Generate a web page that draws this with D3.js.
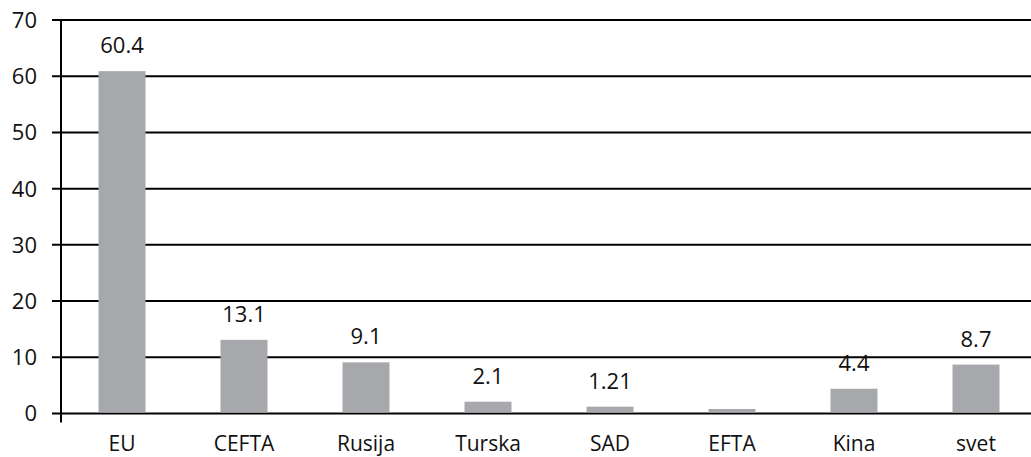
<!DOCTYPE html>
<html>
<head>
<meta charset="utf-8">
<script src="https://cdn.jsdelivr.net/npm/d3@7"></script>
<style>
  body { margin: 0; background: #fff; }
  text { font-family: "Open Sans", "Noto Sans", sans-serif; fill: #111; }
</style>
</head>
<body>
<div id="chart"></div>
<script>
const categories = ["EU", "CEFTA", "Rusija", "Turska", "SAD", "EFTA", "Kina", "svet"];
const values = [60.9, 13.1, 9.1, 2.1, 1.21, 0.8, 4.4, 8.7];
const valueLabels = ["60.4", "13.1", "9.1", "2.1", "1.21", "", "4.4", "8.7"];
const yTicks = [0, 10, 20, 30, 40, 50, 60, 70];

const W = 1031, H = 457;
const margin = {top: 20, right: -6, bottom: 43, left: 61};

const svg = d3.select("#chart").append("svg")
    .attr("width", W)
    .attr("height", H);

const x = d3.scaleBand()
    .domain(categories)
    .range([margin.left, W - margin.right])
    .paddingInner(0.615)
    .paddingOuter(0.3075);

const y = d3.scaleLinear()
    .domain([0, 70])
    .range([H - margin.bottom - 0.5, margin.top]);

// gridlines + tick marks
svg.append("g")
  .selectAll("line")
  .data(yTicks)
  .join("line")
    .attr("x1", margin.left - 9)
    .attr("x2", W)
    .attr("y1", d => y(d))
    .attr("y2", d => y(d))
    .attr("stroke", "#000")
    .attr("stroke-width", 2);

// tick labels
svg.append("g")
  .selectAll("text")
  .data(yTicks)
  .join("text")
    .attr("x", 37)
    .attr("y", d => y(d))
    .attr("dy", "0.36em")
    .attr("text-anchor", "end")
    .style("font-size", "22px")
    .text(d => d);

// bars
svg.append("g")
  .selectAll("rect")
  .data(values)
  .join("rect")
    .attr("x", (d, i) => x(categories[i]))
    .attr("width", x.bandwidth())
    .attr("y", d => y(d))
    .attr("height", d => y(0) - y(d) - 1)
    .attr("fill", "#a7a8ab");

// value labels
svg.append("g")
  .selectAll("text")
  .data(values)
  .join("text")
    .attr("x", (d, i) => x(categories[i]) + x.bandwidth() / 2)
    .attr("y", d => y(d) - 18)
    .attr("text-anchor", "middle")
    .style("font-size", "22px")
    .text((d, i) => valueLabels[i]);

// y axis line
svg.append("line")
    .attr("x1", margin.left)
    .attr("x2", margin.left)
    .attr("y1", y(70) - 1)
    .attr("y2", y(0) + 9)
    .attr("stroke", "#000")
    .attr("stroke-width", 2);

// category labels
svg.append("g")
  .selectAll("text")
  .data(categories)
  .join("text")
    .attr("x", d => x(d) + x.bandwidth() / 2)
    .attr("y", 451)
    .attr("text-anchor", "middle")
    .style("font-size", "21px")
    .text(d => d);
</script>
</body>
</html>
